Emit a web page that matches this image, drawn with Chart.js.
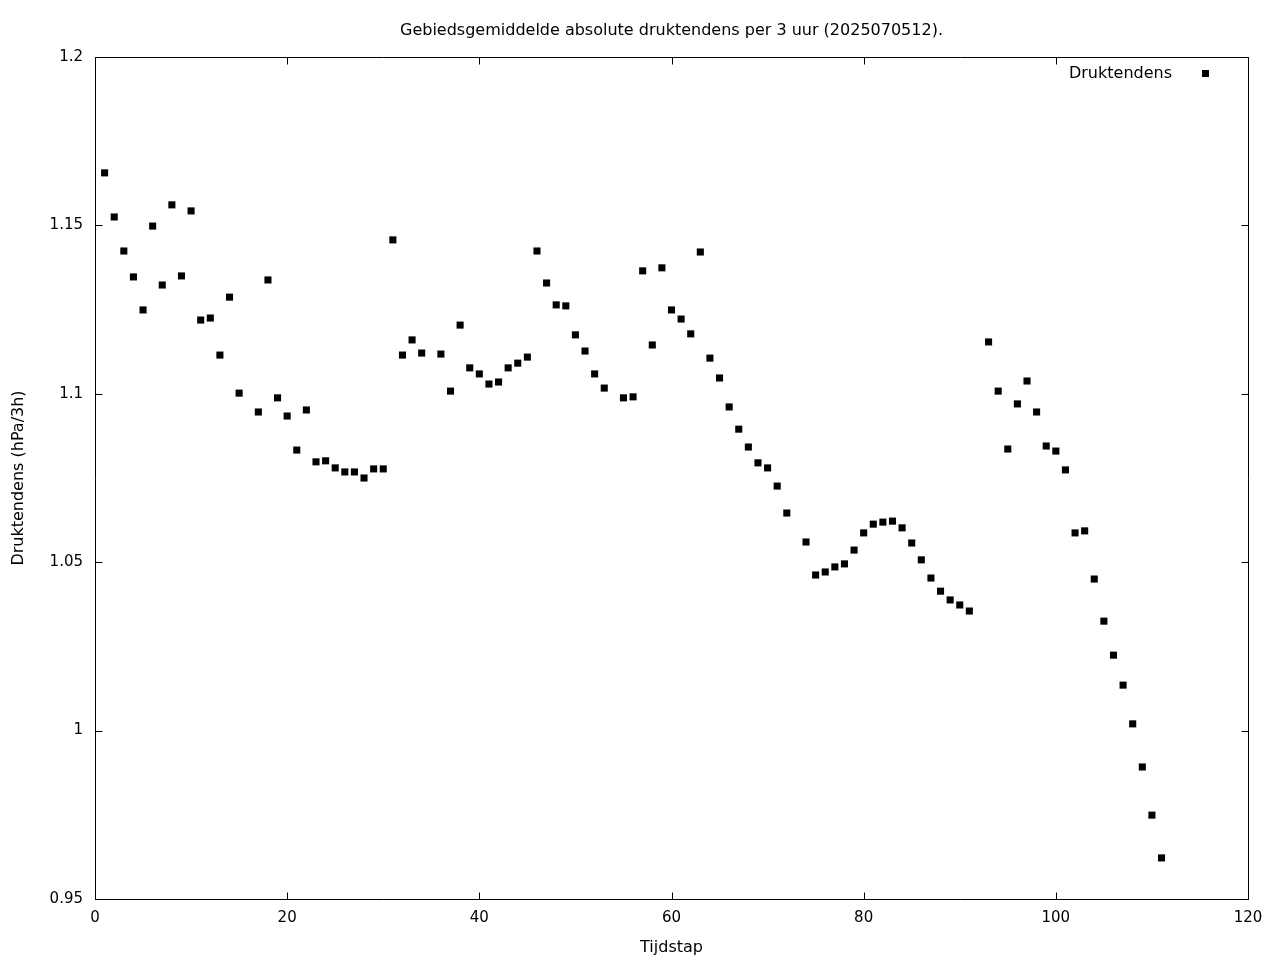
<!DOCTYPE html>
<html>
<head>
<meta charset="utf-8">
<title>Druktendens</title>
<script src="https://cdn.jsdelivr.net/npm/chart.js@4/dist/chart.umd.min.js"></script>
<style>
  html, body { margin: 0; padding: 0; background: #fff; }
  canvas { display: block; }
</style>
</head>
<body>
<canvas id="tendChart" width="1280" height="960"></canvas>
<script>
// tijdstappen (stap 16, 35, 54, 73 en 92 ontbreken)
var steps = [
  1, 2, 3, 4, 5, 6, 7, 8, 9, 10, 11, 12, 13, 14, 15, 17, 18, 19, 20,
  21, 22, 23, 24, 25, 26, 27, 28, 29, 30, 31, 32, 33, 34, 36, 37, 38, 39, 40,
  41, 42, 43, 44, 45, 46, 47, 48, 49, 50, 51, 52, 53, 55, 56, 57, 58, 59, 60,
  61, 62, 63, 64, 65, 66, 67, 68, 69, 70, 71, 72, 74, 75, 76, 77, 78, 79, 80,
  81, 82, 83, 84, 85, 86, 87, 88, 89, 90, 91, 93, 94, 95, 96, 97, 98, 99, 100,
  101, 102, 103, 104, 105, 106, 107, 108, 109, 110, 111
];
var tendency = [
  1.1656, 1.1525, 1.1424, 1.1347, 1.1249, 1.1498, 1.1323, 1.1561, 1.1350, 1.1543,
  1.1219, 1.1225, 1.1115, 1.1287, 1.1002, 1.0946, 1.1338, 1.0988, 1.0934,
  1.0833, 1.0952, 1.0798, 1.0801, 1.0780, 1.0768, 1.0768, 1.0750, 1.0777, 1.0777,
  1.1457, 1.1115, 1.1160, 1.1121, 1.1118, 1.1008, 1.1204, 1.1077, 1.1059,
  1.1029, 1.1035, 1.1077, 1.1091, 1.1109, 1.1424, 1.1329, 1.1264, 1.1261, 1.1175,
  1.1127, 1.1059, 1.1017, 1.0988, 1.0991, 1.1365, 1.1145, 1.1374, 1.1249,
  1.1222, 1.1178, 1.1421, 1.1106, 1.1047, 1.0961, 1.0895, 1.0842, 1.0795, 1.0780,
  1.0726, 1.0646, 1.0560, 1.0462, 1.0471, 1.0486, 1.0495, 1.0536, 1.0587,
  1.0613, 1.0619, 1.0622, 1.0602, 1.0557, 1.0507, 1.0453, 1.0414, 1.0388, 1.0373,
  1.0355, 1.1154, 1.1008, 1.0836, 1.0970, 1.1038, 1.0946, 1.0845, 1.0830,
  1.0774, 1.0587, 1.0593, 1.0450, 1.0325, 1.0224, 1.0135, 1.0020, 0.9892, 0.9749,
  0.9622
];
var xTicks = [0, 20, 40, 60, 80, 100, 120];
var yTicks = [0.95, 1, 1.05, 1.1, 1.15, 1.2];

var FONT = "'DejaVu Sans', sans-serif";

// gnuplot-achtig kader met naar binnen wijzende ticks, plus legenda rechtsboven
var framePlugin = {
    id: 'frame',
    afterDatasetsDraw: function(chart) {
        var c = chart.ctx, a = chart.chartArea;
        var xs = chart.scales.x, ys = chart.scales.y;
        var L = Math.round(a.left) + 0.5, R = Math.round(a.right) + 0.5;
        var T = Math.round(a.top) + 0.5, B = Math.round(a.bottom) + 0.5;
        c.save();
        c.strokeStyle = '#000';
        c.lineWidth = 1;
        c.beginPath();
        c.rect(L, T, R - L, B - T);
        xTicks.forEach(function(v) {
            var px = Math.round(xs.getPixelForValue(v)) + 0.5;
            c.moveTo(px, B); c.lineTo(px, B - 7);
            c.moveTo(px, T); c.lineTo(px, T + 7);
        });
        yTicks.forEach(function(v) {
            var py = Math.round(ys.getPixelForValue(v)) + 0.5;
            c.moveTo(L, py); c.lineTo(L + 7, py);
            c.moveTo(R, py); c.lineTo(R - 7, py);
        });
        c.stroke();

        // legenda
        c.fillStyle = '#000';
        c.font = '16px ' + FONT;
        c.textAlign = 'right';
        c.textBaseline = 'middle';
        c.fillText('Druktendens', a.right - 76, a.top + 17);
        c.fillRect(a.right - 46, a.top + 13, 7, 7);
        c.restore();
    }
};

var ctx = document.getElementById('tendChart').getContext('2d');
var tendChart = new Chart(ctx, {
    type: 'scatter',
    data: {
        datasets: [{
            label: 'Druktendens',
            data: steps.map(function(s, i) { return { x: s, y: tendency[i] }; }),
            pointStyle: 'rect',
            pointRadius: 5,
            pointBackgroundColor: '#000',
            pointBorderWidth: 0,
            showLine: false
        }]
    },
    options: {
        responsive: false,
        animation: false,
        layout: { padding: { left: 0, right: 32, top: 0, bottom: 0 } },
        plugins: {
            legend: { display: false },
            tooltip: { enabled: false },
            title: {
                display: true,
                fullSize: false,
                text: 'Gebiedsgemiddelde absolute druktendens per 3 uur (2025070512).',
                color: '#000',
                font: { family: FONT, size: 16, weight: 'normal' },
                padding: { top: 21.5, bottom: 16.3 }
            }
        },
        scales: {
            x: {
                type: 'linear',
                min: 0,
                max: 120,
                grid: { display: false, drawTicks: false },
                border: { display: false },
                afterBuildTicks: function(s) { s.ticks = xTicks.map(function(v) { return { value: v }; }); },
                afterFit: function(s) { s.height = 61; },
                ticks: {
                    color: '#000',
                    padding: 10,
                    maxRotation: 0,
                    font: { family: FONT, size: 15 }
                },
                title: {
                    display: true,
                    text: 'Tijdstap',
                    color: '#000',
                    font: { family: FONT, size: 16 },
                    padding: { top: 0, bottom: 3 }
                }
            },
            y: {
                type: 'linear',
                min: 0.95,
                max: 1.2,
                grid: { display: false, drawTicks: false },
                border: { display: false },
                afterBuildTicks: function(s) { s.ticks = yTicks.map(function(v) { return { value: v }; }); },
                afterFit: function(s) { s.width = 95; },
                ticks: {
                    color: '#000',
                    padding: 12,
                    font: { family: FONT, size: 15 },
                    callback: function(v) { return String(+v.toFixed(2)); }
                },
                title: {
                    display: true,
                    text: 'Druktendens (hPa/3h)',
                    color: '#000',
                    font: { family: FONT, size: 16 },
                    padding: { top: 9, bottom: 0 }
                }
            }
        }
    },
    plugins: [framePlugin]
});
</script>
</body>
</html>
